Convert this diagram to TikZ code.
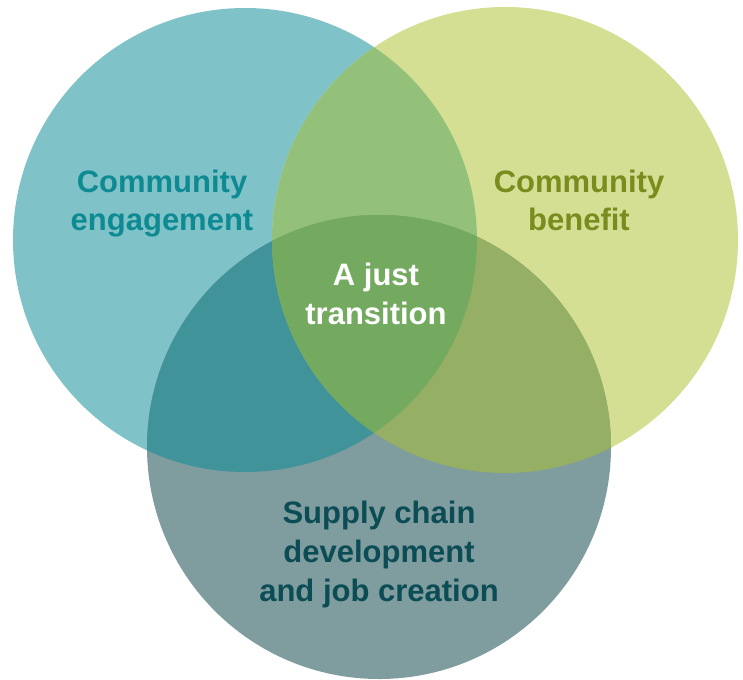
\documentclass[tikz,border=0pt]{standalone}
\usepackage{fontspec}
\setmainfont{Liberation Sans}
\begin{document}
\begin{tikzpicture}[x=1pt,y=-1pt,
  label text/.style={font=\bfseries\fontsize{31}{38}\selectfont, align=center, inner sep=0pt, anchor=base}]
\definecolor{cEng}{HTML}{7FC2C8}
\definecolor{cBen}{HTML}{D4DF94}
\definecolor{cSup}{HTML}{7F9C9E}
\definecolor{cEngBen}{HTML}{94C17A}
\definecolor{cEngSup}{HTML}{3F9399}
\definecolor{cBenSup}{HTML}{95AF65}
\definecolor{cAll}{HTML}{74AA60}
\definecolor{tEng}{HTML}{0E8A93}
\definecolor{tBen}{HTML}{7A8C1E}
\definecolor{tSup}{HTML}{0B4C55}
\useasboundingbox (0,0) rectangle (743,679);
% the three sets
\def\engpath{(245,240) circle[radius=232]}
\def\benpath{(505,240) circle[radius=233]}
\def\suppath{(379,447) circle[radius=232]}
\fill[cEng] \engpath;
\fill[cBen] \benpath;
\fill[cSup] \suppath;
% pairwise overlaps
\begin{scope}
  \clip \engpath;
  \fill[cEngBen] \benpath;
  \fill[cEngSup] \suppath;
\end{scope}
\begin{scope}
  \clip \benpath;
  \fill[cBenSup] \suppath;
\end{scope}
% common overlap
\begin{scope}
  \clip \engpath;
  \clip \benpath;
  \fill[cAll] \suppath;
\end{scope}
% labels (anchored at the baseline of their last line)
\node[label text, text=tEng] (eng) at (162,230) {Community\\engagement};
\node[label text, text=tBen] (ben) at (579,230) {Community\\benefit};
\node[label text, text=white, font=\bfseries\fontsize{31}{39}\selectfont] (just) at (376,324) {A just\\transition};
\node[label text, text=tSup, font=\bfseries\fontsize{31}{39}\selectfont] (sup) at (379,601) {Supply chain\\development\\and job creation};
\end{tikzpicture}
\end{document}
